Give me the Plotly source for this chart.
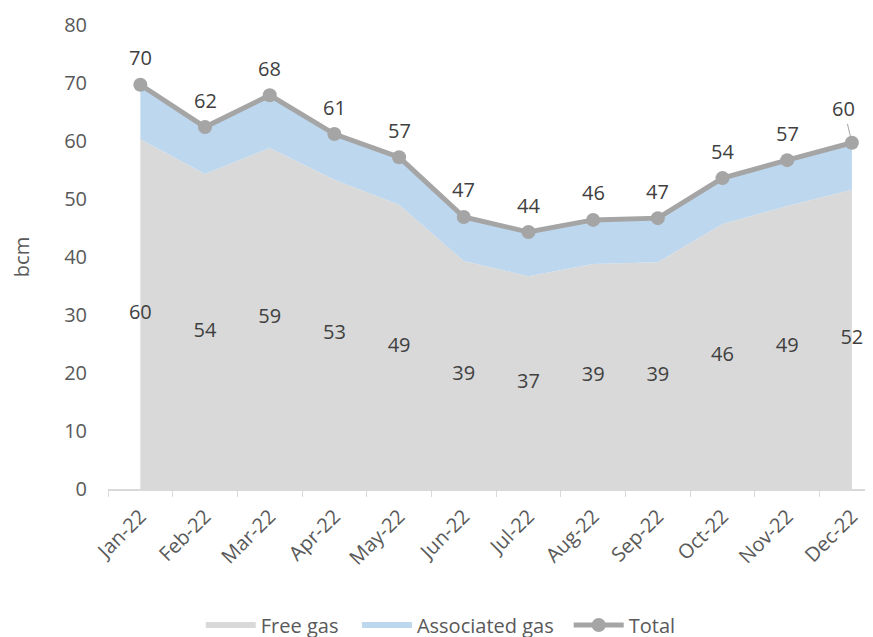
import plotly.graph_objects as go

months = ["Jan-22", "Feb-22", "Mar-22", "Apr-22", "May-22", "Jun-22",
          "Jul-22", "Aug-22", "Sep-22", "Oct-22", "Nov-22", "Dec-22"]
free_gas = [60.3, 54.3, 58.8, 53.3, 49.0, 39.3, 36.7, 38.8, 39.1, 45.7, 48.8, 51.6]
associated_gas = [9.4, 8.1, 9.1, 7.9, 8.2, 7.6, 7.6, 7.6, 7.6, 7.9, 7.9, 8.1]
total = [69.7, 62.4, 67.9, 61.2, 57.2, 46.9, 44.3, 46.4, 46.7, 53.6, 56.7, 59.7]
free_labels = ["60", "54", "59", "53", "49", "39", "37", "39", "39", "46", "49", "52"]
total_labels = ["70", "62", "68", "61", "57", "47", "44", "46", "47", "54", "57", "60"]

FONT = "Open Sans"
FS = 20
fig = go.Figure()

fig.add_trace(go.Scatter(
    x=months, y=free_gas, name="Free gas", stackgroup="one",
    mode="none", fillcolor="#D9D9D9", hoverinfo="skip", legend="legend"))
fig.add_trace(go.Scatter(
    x=months, y=associated_gas, name="Associated gas", stackgroup="one",
    mode="none", fillcolor="#BDD7EE", hoverinfo="skip", legend="legend2"))
fig.add_trace(go.Scatter(
    x=months, y=total, name="Total", mode="lines+markers",
    line=dict(color="#A5A5A5", width=5),
    marker=dict(color="#A5A5A5", size=14), legend="legend3"))

# Free gas labels centred in the area
fig.add_trace(go.Scatter(
    x=months, y=[v / 2 for v in free_gas], mode="text", text=free_labels,
    textfont=dict(family=FONT, size=FS, color="#404040"),
    showlegend=False, hoverinfo="skip", cliponaxis=False))

annotations = []
for i, (m, v, t) in enumerate(zip(months, total, total_labels)):
    if i == len(months) - 1:
        annotations.append(dict(
            x=m, y=v, text=t, showarrow=True, arrowhead=0, arrowwidth=1,
            arrowcolor="#A5A5A5", ax=-8, ay=-34, standoff=7,
            font=dict(family=FONT, size=FS, color="#404040")))
    else:
        annotations.append(dict(
            x=m, y=v, text=t, showarrow=False, yshift=27,
            font=dict(family=FONT, size=FS, color="#404040")))

def leg(x, iw=50):
    return dict(orientation="h", x=x, xanchor="left", y=-0.293, yanchor="middle",
                font=dict(family=FONT, size=FS, color="#595959"),
                itemwidth=iw, bgcolor="rgba(0,0,0,0)")

fig.update_layout(
    width=873, height=637,
    margin=dict(l=100, r=0, t=17, b=156, autoexpand=False),
    paper_bgcolor="white", plot_bgcolor="white",
    font=dict(family=FONT, size=FS, color="#595959"),
    annotations=annotations,
    legend=leg(0.120),
    legend2=leg(0.322),
    legend3=leg(0.596),
    xaxis=dict(type="category", range=[-0.5, 11.45], tickson="boundaries",
               automargin=False,
               ticks="outside", ticklen=6, tickcolor="#D9D9D9",
               showline=True, linecolor="#D9D9D9", linewidth=1.5,
               tickangle=-45, showgrid=False, ticklabelstandoff=6,
               tickfont=dict(family=FONT, size=FS, color="#595959")),
    yaxis=dict(range=[0, 80], dtick=10, showgrid=False, showline=False,
               automargin=False,
               zeroline=False, ticks="", ticklabelstandoff=20,
               tickfont=dict(family=FONT, size=FS, color="#595959"),
               title=dict(text="bcm", standoff=34,
                          font=dict(family=FONT, size=FS, color="#595959"))),
)

fig.write_html("out.html")
